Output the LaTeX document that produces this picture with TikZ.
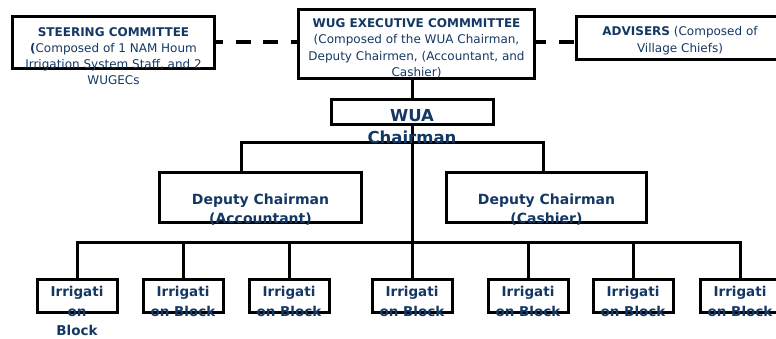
\documentclass[tikz,border=0pt]{standalone}
\usepackage{fontspec}
\setmainfont{DejaVu Sans}
\usepackage{xcolor}
\usetikzlibrary{positioning}
\definecolor{textblue}{RGB}{20,56,100}
\tikzset{
  box/.style={draw, line width=3pt, outer sep=0pt, inner sep=0pt},
  txt/.style={anchor=north, inner sep=0pt, align=center, text=textblue},
  conn/.style={line width=3pt},
  dashconn/.style={line width=4.5pt},
}

\begin{document}
\begin{tikzpicture}[x=1pt,y=-1pt]
  \useasboundingbox (0,0) rectangle (776,338);
  % boxes
  \node[box, minimum width=202pt, minimum height=52pt] (steer) at (113.5,42.5) {};
  \node[box, minimum width=236pt, minimum height=69pt] (exec) at (416.5,44) {};
  \node[box, minimum width=207pt, minimum height=43pt] (advis) at (680,38) {};
  \node[box, minimum width=162pt, minimum height=25pt] (wua) at (412,112) {};
  \node[box, minimum width=202pt, minimum height=50pt] (dep1) at (260.5,197.5) {};
  \node[box, minimum width=200pt, minimum height=50pt] (dep2) at (546.5,197.5) {};
  \foreach \x [count=\i] in {77,183,289,412,528,633,740}
    \node[box, minimum width=80pt, minimum height=33pt] (ib\i) at (\x,296) {};
  % connectors
  \coordinate (bus) at (412,242);
  \coordinate (jl) at (241,142);
  \coordinate (jr) at (543,142);
  \draw[dashconn, dash pattern=on 15pt off 12.5pt, dash phase=6.5pt]
    (steer.east |- 0,42) -- (exec.west |- 0,42);
  \draw[dashconn, dash pattern=on 15pt off 13pt, dash phase=3.5pt]
    (exec.east |- 0,42) -- (advis.west |- 0,42);
  \draw[conn] (wua.north |- exec.south) -- (wua.north);
  \draw[conn] (wua.south) -- (bus);
  \draw[conn] (jl |- dep1.north) -- (jl) -- (jr) -- (jr |- dep2.north);
  \draw[conn] (ib1.north) -- (ib1.north |- bus) -- (ib7.north |- bus) -- (ib7.north);
  \foreach \i in {2,...,6}
    \draw[conn] (ib\i.north) -- (ib\i.north |- bus);
  % texts
  \node[txt, font=\fontsize{12}{16}\selectfont] (steertxt) at ([yshift=-11pt]steer.north)
    {\textbf{STEERING COMMITTEE}\\\textbf{(}Composed of 1 NAM Houm\\Irrigation System Staff, and 2\\WUGECs};
  \node[txt, font=\fontsize{12}{16.3}\selectfont] (exectxt) at ([yshift=-9pt]exec.north)
    {\textbf{WUG EXECUTIVE COMMMITTEE}\\(Composed of the WUA Chairman,\\Deputy Chairmen, (Accountant, and\\Cashier)};
  \node[txt, font=\fontsize{12}{17}\selectfont] (advistxt) at ([yshift=-10pt]advis.north)
    {\textbf{ADVISERS} (Composed of\\Village Chiefs)};
  \node[txt, font=\fontsize{16.5}{22}\selectfont\bfseries] (wuatxt) at ([yshift=-9.5pt]wua.north)
    {WUA\\Chairman};
  \node[txt, font=\fontsize{14}{19.5}\selectfont\bfseries] (dep1txt) at ([yshift=-21pt]dep1.north)
    {Deputy Chairman\\(Accountant)};
  \node[txt, font=\fontsize{14}{19.5}\selectfont\bfseries] (dep2txt) at ([yshift=-21pt]dep2.north)
    {Deputy Chairman\\(Cashier)};
  \node[txt, font=\fontsize{13.5}{19.5}\selectfont\bfseries] (ib1txt) at ([yshift=-7pt]ib1.north)
    {Irrigati\\on\\Block};
  \foreach \i in {2,...,7}
    \node[txt, font=\fontsize{13.5}{19.5}\selectfont\bfseries] (ib\i txt) at ([yshift=-7pt]ib\i.north)
      {Irrigati\\on Block};
\end{tikzpicture}
\end{document}
